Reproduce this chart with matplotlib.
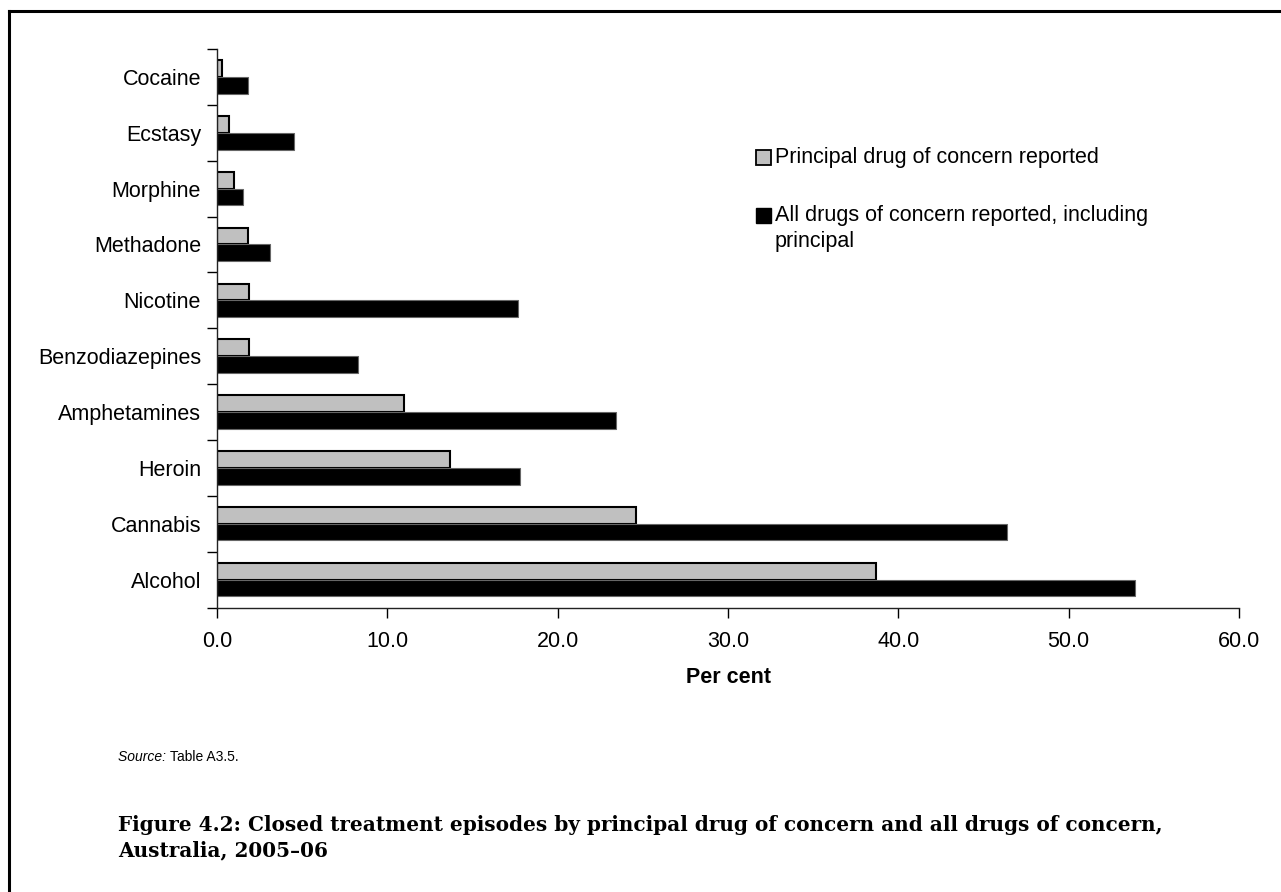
import numpy as np
import matplotlib
matplotlib.use("Agg")
import matplotlib.pyplot as plt
from matplotlib.lines import Line2D
from matplotlib.patches import Rectangle

# Drug categories, listed bottom to top
drugs = ["Alcohol", "Cannabis", "Heroin", "Amphetamines", "Benzodiazepines",
         "Nicotine", "Methadone", "Morphine", "Ecstasy", "Cocaine"]
principal = [38.7, 24.6, 13.7, 11.0, 1.9, 1.9, 1.8, 1.0, 0.7, 0.3]
all_drugs = [53.9, 46.4, 17.8, 23.4, 8.3, 17.7, 3.1, 1.5, 4.5, 1.8]
x_ticks = [0, 10, 20, 30, 40, 50, 60]

label_principal = "Principal drug of concern reported"
label_all = ["All drugs of concern reported, including", "principal"]

GREY = "#c0c0c0"
FS = 15.5

plt.rcParams["font.family"] = ["Liberation Sans", "DejaVu Sans"]

W, H = 1281, 892
fig = plt.figure(figsize=(W / 100, H / 100), dpi=100)
ax = fig.add_axes([217 / W, 1 - 607.5 / H, (1239 - 217) / W, (607.5 - 49) / H])


def fx(px):
    return px / W


def fy(py):
    return 1 - py / H


y = np.arange(len(drugs))
h = 0.3
ax.barh(y + h / 2, principal, height=h, color=GREY,
        edgecolor="black", linewidth=1.5)
ax.barh(y - h / 2, all_drugs, height=h, color="black",
        edgecolor="#666666", linewidth=0.8)

ax.set_xlim(0, 60)
ax.set_ylim(-0.5, len(drugs) - 0.5)

ax.set_xticks(x_ticks)
ax.set_xticklabels([f"{v:.1f}" for v in x_ticks], fontsize=FS)
ax.set_yticks(np.arange(len(drugs) + 1) - 0.5)
ax.set_yticklabels([])
ax.set_yticks(y, minor=True)
ax.set_yticklabels(drugs, minor=True, fontsize=FS)
ax.tick_params(axis="y", which="minor", length=0, pad=11.5)
ax.tick_params(axis="y", which="major", length=7, width=1, direction="out")
ax.tick_params(axis="x", which="major", length=7, width=1, direction="out", pad=10)

for s in ("top", "right"):
    ax.spines[s].set_visible(False)
for s in ("left", "bottom"):
    ax.spines[s].set_linewidth(1)
    ax.spines[s].set_color("#222222")

ax.set_xlabel("Per cent", fontsize=FS, fontweight="bold", labelpad=11)

# Legend keys and labels
fig.add_artist(Rectangle((fx(756), fy(165)), fx(15), 15 / H, facecolor=GREY,
                         edgecolor="black", linewidth=1.3,
                         transform=fig.transFigure))
fig.text(fx(775), fy(157), label_principal, fontsize=FS, va="center", ha="left")
fig.add_artist(Rectangle((fx(756), fy(223)), fx(15), 15 / H, facecolor="black",
                         edgecolor="black", linewidth=1,
                         transform=fig.transFigure))
fig.text(fx(775), fy(216), label_all[0], fontsize=FS, va="center", ha="left")
fig.text(fx(775), fy(241), label_all[1], fontsize=FS, va="center", ha="left")

# Source note
src = fig.text(fx(118), fy(757), "Source: ", fontsize=10, style="italic",
               va="center", ha="left")
fig.canvas.draw()
bb = src.get_window_extent()
fig.text(bb.x1 / W, fy(757), "Table A3.5.", fontsize=10,
         va="center", ha="left")

# Figure caption
cap_font = ["DejaVu Serif"]
fig.text(fx(118), fy(825),
         "Figure 4.2: Closed treatment episodes by principal drug of concern and all drugs of concern,",
         fontsize=14.4, fontweight="bold", va="center", ha="left", family=cap_font)
fig.text(fx(118), fy(850), "Australia, 2005\u201306",
         fontsize=14.4, fontweight="bold", va="center", ha="left", family=cap_font)

# Page frame: left and top rules
fig.add_artist(Line2D([fx(8.5), fx(8.5)], [0, fy(11)], color="black",
                      linewidth=2.2, transform=fig.transFigure))
fig.add_artist(Line2D([fx(8.5), 1], [fy(11), fy(11)], color="black",
                      linewidth=2.2, solid_capstyle="projecting",
                      transform=fig.transFigure))

fig.savefig("out.png", dpi=100, facecolor="white")
